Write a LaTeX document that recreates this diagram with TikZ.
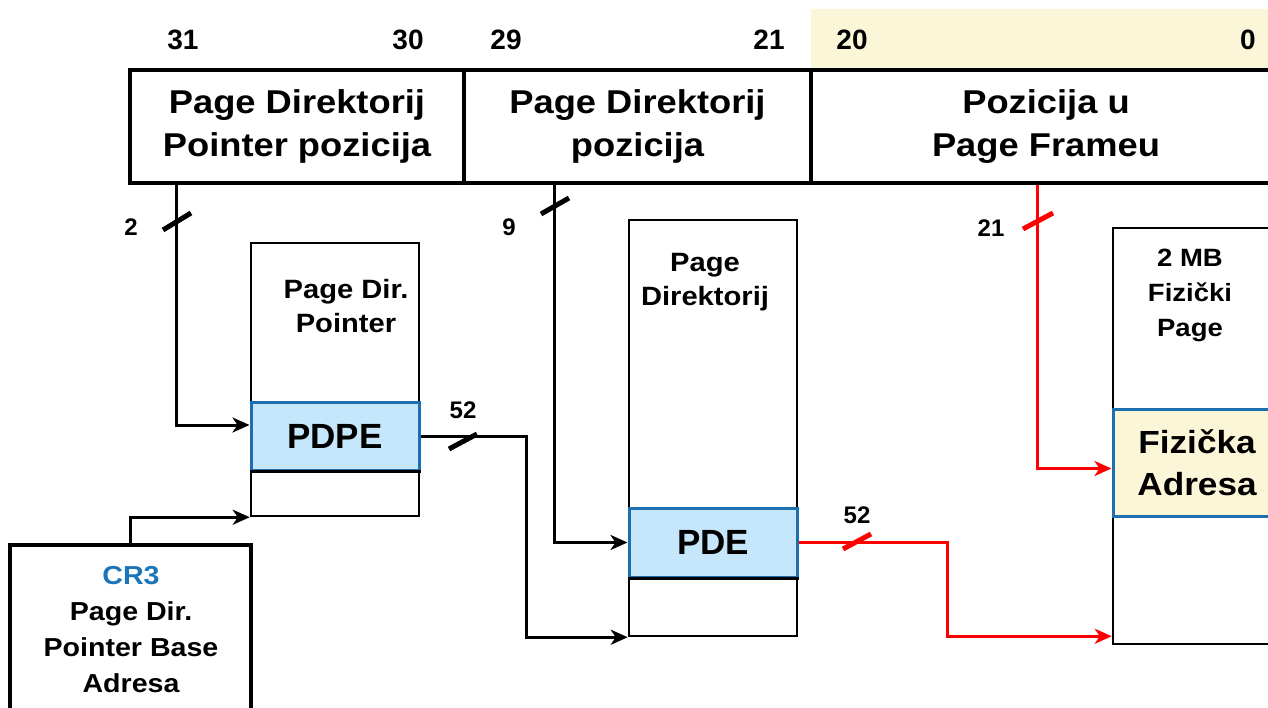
\documentclass[tikz,border=0pt]{standalone}
\usepackage{fontspec}
\setmainfont[FakeStretch=1.1]{Liberation Sans}
\newfontfamily\narrowfont{Liberation Sans}
\usetikzlibrary{arrows.meta, positioning}
\definecolor{rowblue}{HTML}{C6E7FB}
\definecolor{edgeblue}{HTML}{1D6FB0}
\definecolor{pageyellow}{HTML}{FCF6D8}
\definecolor{crblue}{HTML}{1B75BB}
\tikzstyle{field} = [rectangle, draw=black, line width=3.5pt,
minimum height=113pt,
align=center,
font=\fontsize{33}{43}\selectfont\bfseries]
\tikzstyle{table} = [rectangle, draw=black, line width=2.5pt,
minimum width=168pt]
\tikzstyle{entry} = [rectangle, draw=edgeblue, line width=3pt,
fill=rowblue,
minimum width=168pt,
font=\narrowfont\fontsize{35}{42}\selectfont\bfseries]
\tikzstyle{tlabel} = [align=center,
font=\fontsize{26.5}{34}\selectfont\bfseries]
\tikzstyle{bitno} = [font=\narrowfont\fontsize{28}{30}\selectfont\bfseries]
\tikzstyle{buslabel} = [font=\narrowfont\fontsize{24}{26}\selectfont\bfseries]
\tikzstyle{conn} = [line width=3pt, -{Stealth[length=17pt, width=15pt, inset=5pt]}]
\tikzstyle{redconn} = [conn, red]
\tikzstyle{busmark} = [line width=5pt]

\begin{document}
\begin{tikzpicture}[x=1pt, y=-1pt]
		\useasboundingbox (0,0) rectangle (1268,708);
		\clip (0,0) rectangle (1268,708);
		% linear address fields
		\fill [pageyellow] (811,9) rectangle (1290,70);
		\node (ptrpos) [field, minimum width=334pt] at (297,126.5) {Page Direktorij\\Pointer pozicija};
		\node (dirpos) [field, minimum width=347pt] at (637.5,126.5) {Page Direktorij\\pozicija};
		\node (offpos) [field, minimum width=470pt] at (1046,126.5) {Pozicija u\\Page Frameu};
		\node (b31) [bitno] at (183,40) {31};
		\node (b30) [bitno] at (408,40) {30};
		\node (b29) [bitno] at (506,40) {29};
		\node (b21) [bitno] at (769,40) {21};
		\node (b20) [bitno] at (852,40) {20};
		\node (b0) [bitno] at (1248,40) {0};
		
		% tables
		\node (pdpt) [table, minimum height=273pt] at (335,379.5) {};
		\node (pdptlbl) [tlabel] at (346,306) {Page Dir.\\Pointer};
		\node (pdpe) [entry, minimum height=68pt] at (335,436) {PDPE};
		\draw [line width=2.5pt] (pdpe.south west) -- (pdpe.south east);
		
		\node (pd) [table, minimum height=416pt] at (713,428) {};
		\node (pdlbl) [tlabel] at (705,282.5) {Page\\Direktorij};
		\node (pde) [entry, minimum height=69pt] at (713,542.5) {PDE};
		\draw [line width=2.5pt] (pde.south west) -- (pde.south east);
		
		\node (pg) [table, minimum height=416pt] at (1197,436) {};
		\node (pglbl) [tlabel, font=\fontsize{25}{35}\selectfont\bfseries] at (1190,295) {2 MB\\Fizički\\Page};
		\node (fa) [entry, fill=pageyellow, minimum height=107pt,
			font=\fontsize{32}{42}\selectfont\bfseries, align=center] at (1197,462.5) {Fizička\\Adresa};
		
		\node (cr3) [rectangle, draw=black, line width=4pt, minimum width=241pt, minimum height=185pt] at (130.5,637.5) {};
		\node (cr3lbl) [align=center, font=\fontsize{26}{36}\selectfont\bfseries] at (131,630) {\textcolor{crblue}{CR3}\\Page Dir.\\Pointer Base\\Adresa};
		
		% connectors
		\draw [conn] ([xshift=48.5pt]ptrpos.south west) |- ([yshift=11pt]pdpe.west);
		\draw [conn] (cr3.north) |- (pdpt.south west);
		\draw [conn] (pdpe.east) -- ++(106,0) |- (pd.south west);
		\draw [conn] ([xshift=92.5pt]dirpos.south west) |- (pde.west);
		\draw [redconn] (pde.east) -- ++(149,0) |- ([yshift=9pt]pg.south west);
		\draw [redconn] ([xshift=228.5pt]offpos.south west) |- ([yshift=-6pt]fa.west);
		
		% bus widths
		\draw [busmark] (163,230) -- (191,213);
		\node (w2) [buslabel] at (131,227) {2};
		\draw [busmark] (541,214) -- (569,198);
		\node (w9) [buslabel] at (509,227) {9};
		\draw [busmark] (449,449) -- (477,434);
		\node (w52a) [buslabel] at (463,410) {52};
		\draw [busmark, red] (843,549) -- (871,534);
		\node (w52b) [buslabel] at (857,515) {52};
		\draw [busmark, red] (1023,229) -- (1053,213);
		\node (w21) [buslabel] at (991,228) {21};
	\end{tikzpicture}
\end{document}
